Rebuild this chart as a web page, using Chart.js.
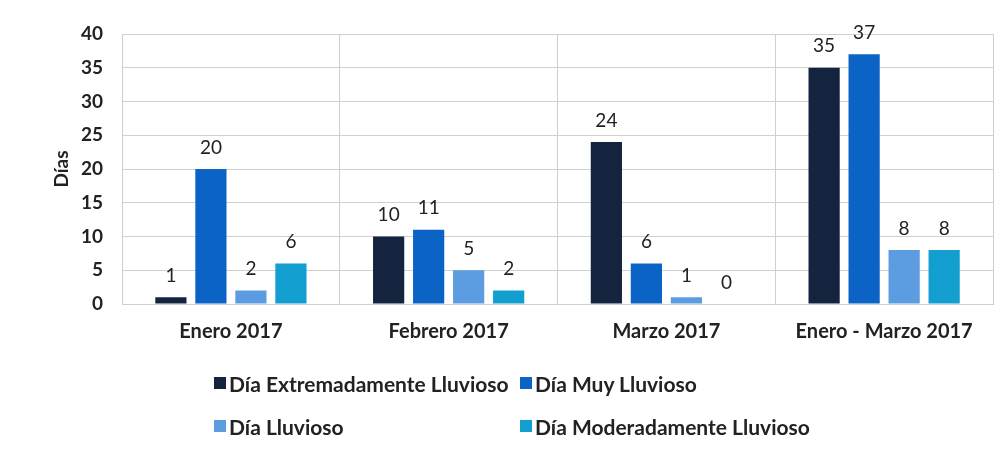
<!DOCTYPE html>
<html><head><meta charset="utf-8">
<script src="https://cdn.jsdelivr.net/npm/chart.js@4.4.1/dist/chart.umd.min.js"></script>
<style>
html,body{margin:0;padding:0;background:#fff;}
#wrap{position:relative;width:1006px;height:452px;}
#legend{position:absolute;left:214px;top:370px;display:grid;grid-template-columns:306px 300px;row-gap:17px;font-family:Lato,"Open Sans",sans-serif;font-weight:bold;font-size:21px;color:#222;}
#legend div{display:flex;align-items:center;white-space:nowrap;height:26px;}
#legend span.sw{display:inline-block;width:12px;height:12px;margin-right:3px;}
</style></head><body>
<div id="wrap"><canvas id="c" width="1006" height="452"></canvas><div id="legend"></div></div>
<script>
const categories = ["Enero 2017", "Febrero 2017", "Marzo 2017", "Enero - Marzo 2017"];
const seriesNames = ["Día Extremadamente Lluvioso", "Día Muy Lluvioso", "Día Lluvioso", "Día Moderadamente Lluvioso"];
const extremadamente = [1, 10, 24, 35];
const muy = [20, 11, 6, 37];
const lluvioso = [2, 5, 1, 8];
const moderadamente = [6, 2, 0, 8];
const yTicks = [0, 5, 10, 15, 20, 25, 30, 35, 40];
const yTitle = "Días";
const colors = ["#14243f", "#0c63c6", "#5b9de0", "#139ed0"];
const allSeries = [extremadamente, muy, lluvioso, moderadamente];

const font = "Lato, 'Open Sans', sans-serif";
const labelPlugin = {
  id: 'valLabels',
  afterDatasetsDraw(chart) {
    const ctx = chart.ctx;
    ctx.save();
    ctx.font = "19px " + font;
    ctx.fillStyle = "#222";
    ctx.textAlign = "center";
    ctx.textBaseline = "bottom";
    chart.data.datasets.forEach((ds, i) => {
      const meta = chart.getDatasetMeta(i);
      meta.data.forEach((bar, j) => {
        ctx.fillText(String(ds.data[j]), bar.x, bar.y - 12);
      });
    });
    // y axis title
    const ys = chart.scales.y;
    ctx.translate(ys.right - 60, (ys.top + ys.bottom) / 2);
    ctx.rotate(-Math.PI / 2);
    ctx.font = "bold 19px " + font;
    ctx.textBaseline = "middle";
    ctx.fillText(yTitle, 0, 0);
    ctx.restore();
  }
};

new Chart(document.getElementById('c'), {
  type: 'bar',
  data: {
    labels: categories,
    datasets: allSeries.map((d, i) => ({
      label: seriesNames[i], data: d, backgroundColor: colors[i],
      barPercentage: 0.78, categoryPercentage: 0.735
    }))
  },
  options: {
    responsive: false, animation: false,
    layout: { padding: { top: 34, left: 62, right: 13, bottom: 92 } },
    plugins: { legend: { display: false }, tooltip: { enabled: false } },
    scales: {
      x: {
        grid: { color: "#d0d0d0", drawTicks: false, offset: true },
        border: { color: "#d0d0d0" },
        ticks: { color: "#222", font: { family: font, size: 20, weight: 'bold' }, padding: 16 }
      },
      y: {
        min: 0, max: 40,
        afterBuildTicks(axis) { axis.ticks = yTicks.map(v => ({ value: v })); },
        grid: { color: "#d0d0d0", drawTicks: false },
        border: { color: "#d0d0d0" },
        ticks: { color: "#222", font: { family: font, size: 19, weight: 'bold' }, padding: 19 }
      }
    }
  },
  plugins: [labelPlugin]
});

const lg = document.getElementById('legend');
seriesNames.forEach((n, i) => {
  const d = document.createElement('div');
  d.innerHTML = '<span class="sw" style="background:' + colors[i] + '"></span>' + n;
  lg.appendChild(d);
});
</script>
</body></html>
